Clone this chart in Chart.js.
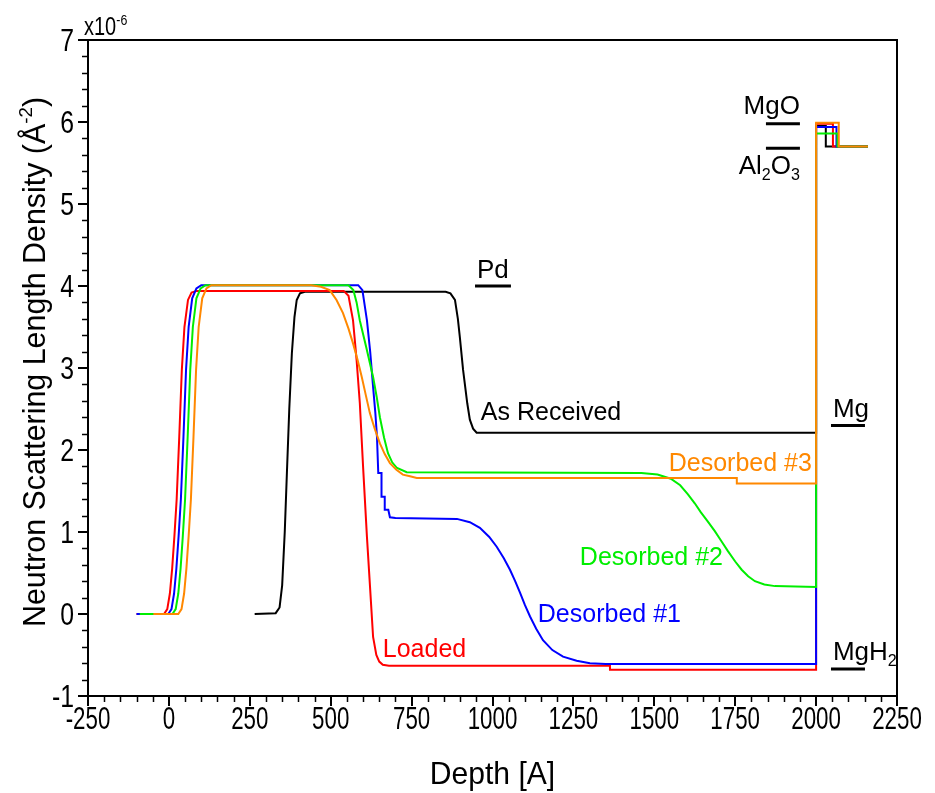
<html>
  <head>
    <script src="https://cdn.jsdelivr.net/npm/chart.js"></script>
    <style>
      body { margin: 0; background: #fff; }
      #wrap { width: 935px; height: 793px; }
    </style>
  </head>
  <body>
    <div id="wrap"><canvas id="sld" width="935" height="793"></canvas></div>
    <script>
      // SLD profiles, depth in Angstrom, SLD in units of 1e-6 A^-2
      var asReceived = [[265,0],[330,0.01],[342,0.08],[350,0.35],[358,1.0],[365,1.76],[372,2.5],[380,3.18],[388,3.62],[395,3.83],[405,3.91],[420,3.93],
        [855,3.93],[870,3.91],[884,3.83],[893,3.6],[899,3.38],[909,2.98],[922,2.57],[930,2.37],[940,2.26],[951,2.21],
        [2000,2.21],[2000,5.95],[2030,5.95],[2030,5.7],[2160,5.7]];
      var loaded = [[-100,0],[-15,0],[-5,0.06],[3,0.25],[10,0.55],[17,0.95],[24,1.4],[32,2.16],[40,2.98],[48,3.5],[59,3.83],[70,3.92],[86,3.94],
        [540,3.94],[555,3.88],[569,3.58],[580,3.1],[590,2.57],[600,1.8],[612,0.94],[622,0.3],[631,-0.28],[641,-0.5],[650,-0.58],[661,-0.62],[680,-0.63],
        [1363,-0.63],[1363,-0.68],[2000,-0.68],[2000,5.98],[2052,5.98],[2052,5.7],[2160,5.7]];
      var desorbed1 = [[-100,0],[-2,0],[8,0.06],[16,0.25],[23,0.55],[30,0.95],[37,1.4],[45,2.16],[53,2.98],[61,3.5],[72,3.85],[85,3.97],[100,4.01],
        [585,4.01],[598,3.95],[612,3.58],[622,3.2],[631,2.77],[638,2.45],[643,2.16],[647,1.72],[657,1.72],[657,1.43],[667,1.43],[667,1.27],[678,1.27],[683,1.18],[700,1.17],
        [890,1.16],[930,1.12],[961,1.05],[990,0.94],[1013,0.82],[1035,0.68],[1054,0.54],[1070,0.4],[1085,0.26],[1100,0.11],[1116,-0.03],[1135,-0.18],[1156,-0.32],[1185,-0.44],[1218,-0.52],[1260,-0.57],[1301,-0.6],[1350,-0.61],
        [2000,-0.61],[2000,5.94],[2063,5.94],[2063,5.7],[2160,5.7]];
      var desorbed2 = [[-90,0],[11,0],[21,0.06],[29,0.25],[36,0.55],[43,0.95],[50,1.4],[58,2.16],[66,2.98],[74,3.5],[85,3.85],[98,3.97],[113,4.01],
        [555,4.01],[570,3.95],[580,3.8],[590,3.58],[610,3.25],[631,2.89],[642,2.65],[652,2.4],[665,2.15],[677,1.96],[690,1.85],[705,1.78],[735,1.73],
        [1460,1.72],[1510,1.7],[1551,1.65],[1580,1.57],[1604,1.46],[1625,1.35],[1644,1.24],[1665,1.13],[1687,1.01],[1707,0.89],[1727,0.77],[1750,0.64],[1770,0.54],[1790,0.46],[1811,0.4],[1840,0.36],[1873,0.34],
        [2000,0.33],[2000,5.86],[2066,5.86],[2066,5.7],[2160,5.7]];
      var desorbed3 = [[-48,0],[29,0],[39,0.06],[47,0.25],[54,0.55],[61,0.95],[68,1.4],[76,2.16],[84,2.98],[92,3.5],[103,3.85],[116,3.97],[131,4.01],
        [440,4.01],[470,3.99],[497,3.95],[518,3.83],[538,3.67],[555,3.48],[569,3.3],[583,3.1],[596,2.89],[609,2.66],[621,2.45],[636,2.26],[652,2.08],[667,1.95],[683,1.84],[703,1.76],[723,1.7],[745,1.68],[766,1.66],
        [1755,1.66],[1755,1.59],[2000,1.59],[2000,5.99],[2070,5.99],[2070,5.7],[2160,5.7]];

      var seriesNames = ["As Received", "Loaded", "Desorbed #1", "Desorbed #2", "Desorbed #3"];
      var seriesData = [asReceived, loaded, desorbed1, desorbed2, desorbed3];
      var seriesColors = ["#000000", "#ff0000", "#0000ff", "#00ee00", "#ff8800"];

      var xTicks = [-250, 0, 250, 500, 750, 1000, 1250, 1500, 1750, 2000, 2250];
      var yTicks = [-1, 0, 1, 2, 3, 4, 5, 6, 7];

      var FONT = '"Liberation Sans", Arial, sans-serif';

      // text with optional sub/superscript pieces, squeezed horizontally by sx
      function rich(ctx, parts, x, y, size, color, align, sx) {
        ctx.save();
        ctx.fillStyle = color;
        ctx.textBaseline = "alphabetic";
        var w = 0;
        parts.forEach(function (p) {
          var fs = p.sub || p.sup ? size * 0.62 : size;
          ctx.font = fs + "px " + FONT;
          p.w = ctx.measureText(p.t).width;
          p.fs = fs;
          w += p.w;
        });
        w *= sx;
        var x0 = align == "center" ? x - w / 2 : (align == "right" ? x - w : x);
        ctx.translate(x0, y);
        ctx.scale(sx, 1);
        var cx = 0;
        parts.forEach(function (p) {
          ctx.font = p.fs + "px " + FONT;
          var dy = p.sub ? size * 0.22 : (p.sup ? -size * 0.42 : 0);
          ctx.fillText(p.t, cx, dy);
          cx += p.w;
        });
        ctx.restore();
      }

      function bar(ctx, chart, x1, x2, yv) {
        var xs = chart.scales.x, ys = chart.scales.y;
        ctx.save();
        ctx.strokeStyle = "#000";
        ctx.lineWidth = 3;
        ctx.beginPath();
        ctx.moveTo(xs.getPixelForValue(x1), ys.getPixelForValue(yv));
        ctx.lineTo(xs.getPixelForValue(x2), ys.getPixelForValue(yv));
        ctx.stroke();
        ctx.restore();
      }

      var decor = {
        id: "decor",
        afterDraw: function (chart) {
          var ctx = chart.ctx, a = chart.chartArea;
          var xs = chart.scales.x, ys = chart.scales.y;
          ctx.save();
          ctx.strokeStyle = "#000";
          ctx.lineWidth = 2;
          // frame top and right
          ctx.beginPath();
          ctx.moveTo(a.left, a.top); ctx.lineTo(a.right, a.top); ctx.lineTo(a.right, a.bottom);
          ctx.stroke();
          // minor ticks
          ctx.lineWidth = 1.5;
          ctx.beginPath();
          for (var v = -250; v <= 2250; v += 50) {
            if (v % 250 == 0) continue;
            var px = Math.round(xs.getPixelForValue(v)) + 0.5;
            ctx.moveTo(px, a.bottom); ctx.lineTo(px, a.bottom + 6);
          }
          for (var k = -5; k <= 35; k++) {
            if (k % 5 == 0) continue;
            var py = Math.round(ys.getPixelForValue(k / 5)) + 0.5;
            ctx.moveTo(a.left, py); ctx.lineTo(a.left - 6, py);
          }
          ctx.stroke();
          ctx.restore();

          // tick labels
          xTicks.forEach(function (t) {
            rich(ctx, [{t: String(t)}], xs.getPixelForValue(t), a.bottom + 33, 31, "#000", "center", 0.72);
          });
          yTicks.forEach(function (t) {
            rich(ctx, [{t: String(t)}], a.left - 14, ys.getPixelForValue(t) + 11, 31, "#000", "right", 0.8);
          });
          rich(ctx, [{t: "x10"}, {t: "-6", sup: true}], a.left - 4, a.top - 5, 25, "#000", "left", 0.8);

          // axis titles
          rich(ctx, [{t: "Depth [A]"}], (a.left + a.right) / 2, 784, 32, "#000", "center", 0.94);
          ctx.save();
          ctx.translate(45, 362);
          ctx.rotate(-Math.PI / 2);
          rich(ctx, [{t: "Neutron Scattering Length Density (\u00c5"}, {t: "-2", sup: true}, {t: ")"}], 0, 0, 31, "#000", "center", 0.98);
          ctx.restore();

          // layer labels
          var X = function (v) { return xs.getPixelForValue(v); };
          var Y = function (v) { return ys.getPixelForValue(v); };
          rich(ctx, [{t: "Pd"}], X(952), Y(4.1), 26, "#000", "left", 1);
          bar(ctx, chart, 946, 1057, 4.0);
          rich(ctx, [{t: "MgO"}], X(1950), Y(6.1), 26, "#000", "right", 1);
          bar(ctx, chart, 1845, 1950, 5.98);
          bar(ctx, chart, 1845, 1950, 5.68);
          rich(ctx, [{t: "Al"}, {t: "2", sub: true}, {t: "O"}, {t: "3", sub: true}], X(1950), Y(5.36), 26, "#000", "right", 1);
          rich(ctx, [{t: "Mg"}], X(2052), Y(2.4), 26, "#000", "left", 1);
          bar(ctx, chart, 2046, 2151, 2.3);
          rich(ctx, [{t: "Mg"}, {t: "H"}, {t: "2", sub: true}], X(2052), Y(-0.56), 26, "#000", "left", 1);
          bar(ctx, chart, 2046, 2151, -0.67);

          // series labels
          rich(ctx, [{t: seriesNames[0]}], X(964), Y(2.37), 25, seriesColors[0], "left", 1);
          rich(ctx, [{t: seriesNames[4]}], X(1987), Y(1.75), 25, seriesColors[4], "right", 1);
          rich(ctx, [{t: seriesNames[3]}], X(1270), Y(0.6), 25, seriesColors[3], "left", 1);
          rich(ctx, [{t: seriesNames[2]}], X(1140), Y(-0.1), 25, seriesColors[2], "left", 1);
          rich(ctx, [{t: seriesNames[1]}], X(661), Y(-0.53), 25, seriesColors[1], "left", 1);
        }
      };

      var drawOrder = [4, 3, 2, 1, 0];
      var datasets = seriesData.map(function (d, i) {
        return {
          label: seriesNames[i],
          data: d.map(function (p) { return {x: p[0], y: p[1]}; }),
          borderColor: seriesColors[i],
          borderWidth: 2,
          pointRadius: 0,
          tension: 0,
          fill: false,
          order: drawOrder[i]
        };
      });

      function axis(min, max, step, size, horizontal) {
        return {
          type: "linear",
          min: min, max: max,
          ticks: {display: false, stepSize: step},
          grid: {drawOnChartArea: false, drawTicks: true, tickLength: 10, lineWidth: 2, color: "#000"},
          border: {display: true, color: "#000", width: 2},
          afterFit: function (s) { if (horizontal) s.height = size; else s.width = size; }
        };
      }

      new Chart(document.getElementById("sld"), {
        type: "line",
        data: {datasets: datasets},
        options: {
          responsive: false,
          animation: false,
          layout: {padding: {top: 40, right: 38, left: 0, bottom: 0}},
          plugins: {legend: {display: false}, tooltip: {enabled: false}},
          scales: {
            x: axis(-250, 2250, 250, 97, true),
            y: axis(-1, 7, 1, 88, false)
          }
        },
        plugins: [decor]
      });
    </script>
  </body>
</html>
